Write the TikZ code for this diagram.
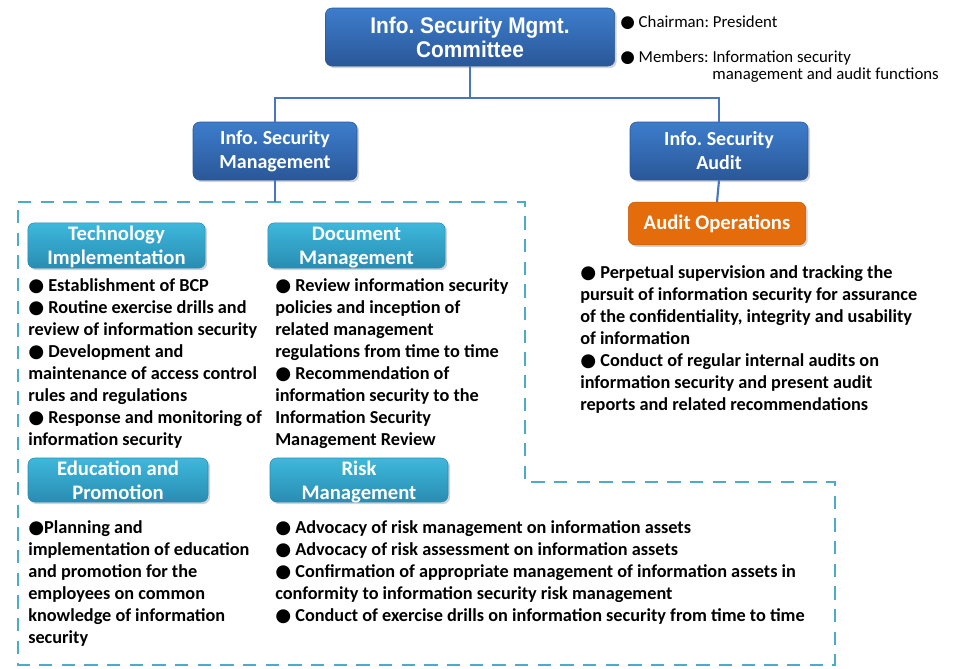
\documentclass[tikz,border=0pt]{standalone}
\usepackage{fontspec}
\setmainfont{Carlito}
\newfontfamily\headfont[FakeStretch=0.92]{Liberation Sans}
\newfontfamily\dotfont{DejaVu Sans}
\usetikzlibrary{shadows}

\definecolor{mgmtblue}{HTML}{3D7DCC}
\definecolor{mgmtdark}{HTML}{2A5798}
\definecolor{unitcyan}{HTML}{3DB8DC}
\definecolor{unitdark}{HTML}{2A8CB2}
\definecolor{auditorange}{HTML}{E46C0A}
\definecolor{zonecyan}{HTML}{4AABCB}
\definecolor{linkblue}{HTML}{4677C0}

\newcommand{\dotitem}{{\dotfont\symbol{"25CF}}}

\tikzset{
    boxshadow/.style={drop shadow={shadow xshift=1.5pt, shadow yshift=-1.5pt, opacity=0.35}},
    headbox/.style={rectangle, rounded corners=5pt, boxshadow, top color=mgmtblue, bottom color=mgmtdark, draw=mgmtdark, text=white, align=center, inner sep=0pt},
    unitbox/.style={rectangle, rounded corners=5pt, boxshadow, top color=unitcyan, bottom color=unitdark, draw=unitdark, text=white, align=center, inner sep=0pt, text depth=0pt, minimum width=133pt, minimum height=34pt, font=\fontsize{15.5}{18}\selectfont\bfseries},
    notes/.style={anchor=north west, align=left, inner sep=0pt, font=\fontsize{13.7}{16.5}\selectfont\bfseries},
    link/.style={draw=linkblue, line width=1.6pt},
    zone/.style={draw=zonecyan, line width=1.8pt, dash pattern=on 10pt off 7pt}
}

\begin{document}
\frenchspacing
\begin{tikzpicture}[x=0.75pt, y=-0.75pt]
    \useasboundingbox (0,0) rectangle (966,668);

    % dashed frame round the management units
    \draw [zone] (18,202) -- (525,202) -- (525,482) -- (835,482) -- (835,665) -- (18,665) -- cycle;

    \node [headbox, minimum width=217pt, minimum height=43.5pt, font=\headfont\fontsize{17}{18}\selectfont\bfseries] (committee) at (470,37) {Info. Security Mgmt.\\Committee};
    \node [headbox, minimum width=123pt, minimum height=43.5pt, font=\fontsize{15}{18}\selectfont\bfseries] (mgmt) at (275,151) {Info. Security\\Management};
    \node [headbox, minimum width=133.5pt, minimum height=43.5pt, font=\fontsize{15}{18}\selectfont\bfseries] (audit) at (719,151) {Info. Security\\Audit};
    \node [rectangle, rounded corners=5pt, boxshadow, fill=auditorange, draw=auditorange!85!black, text=white, inner sep=0pt, minimum width=133pt, minimum height=32pt, font=\fontsize{15.5}{18}\selectfont\bfseries] (auditops) at (717,223.5) {Audit Operations};

    \node [unitbox] (tech) at (116.5,245.5) {Technology\\Implementation};
    \node [unitbox] (docs) at (356.5,245.5) {Document\\Management};
    \node [unitbox, minimum width=135pt, minimum height=33pt] (edu) at (118,480) {Education and\\Promotion};
    \node [unitbox, minimum width=133.5pt, minimum height=33pt] (risk) at (359,480) {Risk\\Management};

    \coordinate (fork) at (470,98);
    \coordinate (zone top) at (275,202);
    \draw [link] (committee.south) -- (fork);
    \draw [link] (fork) -| (mgmt.north);
    \draw [link] (fork) -| (audit.north);
    \draw [link] (audit.south) -- (auditops.north);
    \draw [link] (mgmt.south) -- (zone top);

    \node [anchor=north west, align=left, inner sep=0pt, font=\fontsize{12.6}{12.75}\selectfont] (chair) at (620,16) {\dotitem\ Chairman: President};
    \node [anchor=north west, align=left, inner sep=0pt, font=\fontsize{12.6}{12.75}\selectfont] (members) at (620,51) {\dotitem\ Members: Information security\\\phantom{\dotitem\ Members: }management and audit functions};

    \node [notes] (tech notes) at (28,278) {\dotitem\ Establishment of BCP\\
        \dotitem\ Routine exercise drills and\\
        review of information security\\
        \dotitem\ Development and\\
        maintenance of access control\\
        rules and regulations\\
        \dotitem\ Response and monitoring of\\
        information security};
    \node [notes] (docs notes) at (275,278) {\dotitem\ Review information security\\
        policies and inception of\\
        related management\\
        regulations from time to time\\
        \dotitem\ Recommendation of\\
        information security to the\\
        Information Security\\
        Management Review};
    \node [notes] (edu notes) at (28,520) {\dotitem Planning and\\
        implementation of education\\
        and promotion for the\\
        employees on common\\
        knowledge of information\\
        security};
    \node [notes] (risk notes) at (275,520) {\dotitem\ Advocacy of risk management on information assets\\
        \dotitem\ Advocacy of risk assessment on information assets\\
        \dotitem\ Confirmation of appropriate management of information assets in\\
        conformity to information security risk management\\
        \dotitem\ Conduct of exercise drills on information security from time to time};
    \node [notes] (audit notes) at (580,265) {\dotitem\ Perpetual supervision and tracking the\\
        pursuit of information security for assurance\\
        of the confidentiality, integrity and usability\\
        of information\\
        \dotitem\ Conduct of regular internal audits on\\
        information security and present audit\\
        reports and related recommendations};
\end{tikzpicture}
\end{document}
